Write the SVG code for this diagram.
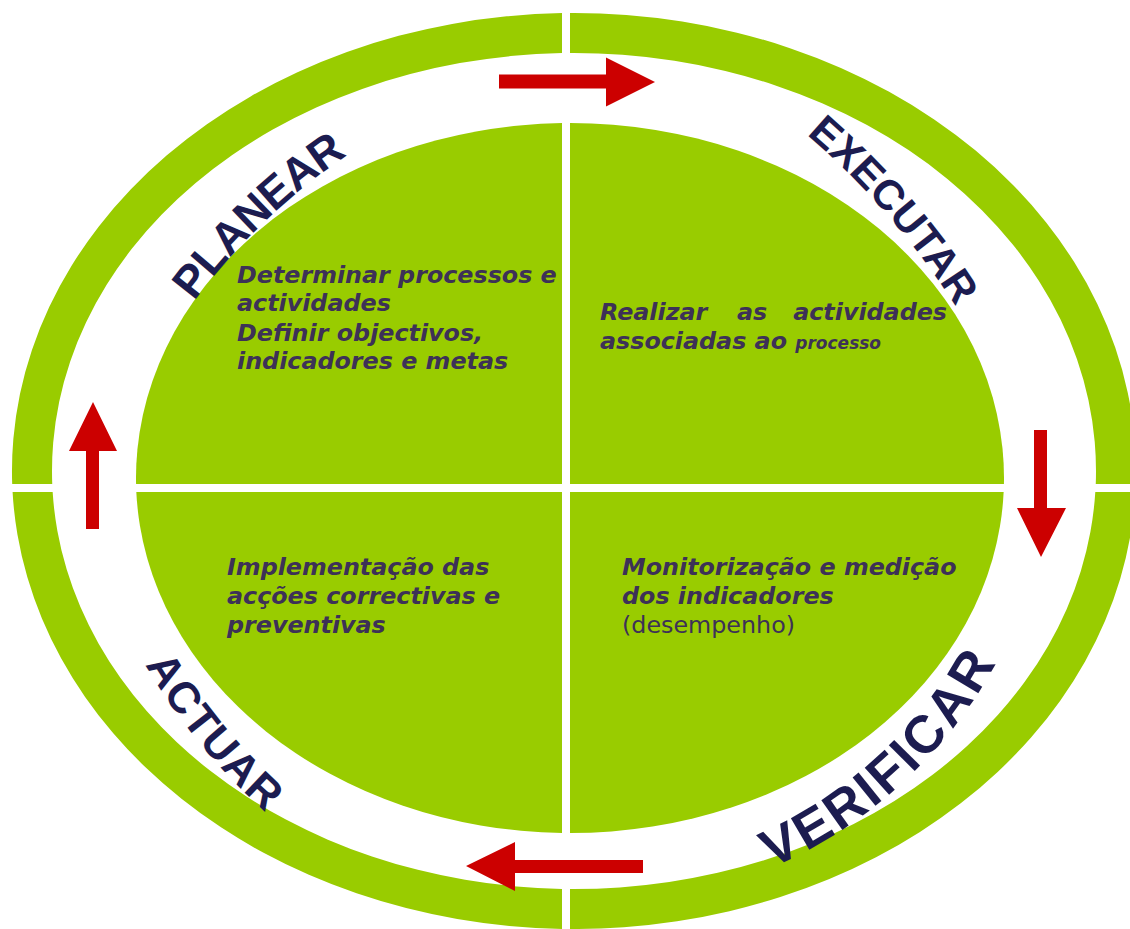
<svg xmlns="http://www.w3.org/2000/svg" width="1130" height="929" viewBox="0 0 1130 929">
<style>
.g{fill:#99CC00}
.body{font-family:"DejaVu Sans",Verdana,sans-serif;font-weight:bold;font-style:italic;font-size:23.8px;fill:#3D3157}
.reg{font-weight:normal;font-style:normal}
.lbl{font-family:"Liberation Sans",Arial,sans-serif;font-weight:bold;fill:#1C1C50;dominant-baseline:central}
.arr{fill:#CC0000}
</style>
<defs>
<path id="pPlan" d="M163.1,317.5 A650,650 0 0,1 365,124.7"/>
<path id="pExec" d="M796,106.1 A800,800 0 0,1 982.7,321.9"/>
<path id="pVer" d="M737,861.2 A450,450 0 0,0 990,633.2"/>
<path id="pAct" d="M147.1,635.3 A600,600 0 0,0 295,816.5"/>
</defs>
<rect width="1130" height="929" fill="#ffffff"/>

<g id="planear">
<path class="g" d="M12.2,484 A562,458 0 0,1 562,13.1 L562,53.1 A522,418 0 0,0 52.25,484 Z"/>
<path class="g" d="M562,484 L136.06,484 A434,355 0 0,1 562,123.06 Z"/>
<text class="lbl" font-size="45"><textPath href="#pPlan" startOffset="50%" text-anchor="middle">PLANEAR</textPath></text>
<text class="body"><tspan x="237" y="283">Determinar processos e</tspan><tspan x="237" y="311">actividades</tspan><tspan x="237" y="341">Definir objectivos,</tspan><tspan x="237" y="369">indicadores e metas</tspan></text>
</g>

<g id="executar">
<path class="g" d="M570,13 A562,458 0 0,1 1135.8,484 L1095.75,484 A522,418 0 0,0 570,53 Z"/>
<path class="g" d="M570,484 L570,123 A434,355 0 0,1 1003.94,484 Z"/>
<text class="lbl" font-size="42" letter-spacing="0.7"><textPath href="#pExec" startOffset="50%" text-anchor="middle">EXECUTAR</textPath></text>
<text class="body"><tspan x="600" y="320">Realizar</tspan><tspan x="737" y="320">as</tspan><tspan x="947" y="320" text-anchor="end">actividades</tspan></text>
<text class="body"><tspan x="600" y="349">associadas ao </tspan><tspan font-size="17">processo</tspan></text>
</g>

<g id="verificar">
<path class="g" d="M570,889 L570,929 A562,458 0 0,0 1135.4,492 L1095.3,492 A522,418 0 0,1 570,889 Z"/>
<path class="g" d="M570,492 L1003.66,492 A434,355 0 0,1 570,833 Z"/>
<text class="lbl" font-size="53" letter-spacing="1.6"><textPath href="#pVer" startOffset="51%" text-anchor="middle">VERIFICAR</textPath></text>
<text class="body"><tspan x="622" y="575">Monitorização e medição</tspan><tspan x="622" y="604">dos indicadores</tspan><tspan class="reg" x="622" y="633">(desempenho)</tspan></text>
</g>

<g id="actuar">
<path class="g" d="M12.59,492 L52.66,492 A522,418 0 0,0 562,888.9 L562,928.9 A562,458 0 0,1 12.59,492 Z"/>
<path class="g" d="M562,492 L562,832.94 A434,355 0 0,1 136.34,492 Z"/>
<text class="lbl" font-size="44" letter-spacing="0.3"><textPath href="#pAct" startOffset="50%" text-anchor="middle">ACTUAR</textPath></text>
<text class="body"><tspan x="227" y="575">Implementação das</tspan><tspan x="227" y="604">acções correctivas e</tspan><tspan x="227" y="633">preventivas</tspan></text>
</g>

<g id="connectors">
<polygon class="arr" points="499,74.5 606,74.5 606,57.5 655,82 606,106.5 606,88.5 499,88.5"/>
<polygon class="arr" points="1034,430 1047,430 1047,508 1066,508 1041,557 1017,508 1034,508"/>
<polygon class="arr" points="643,860 515,860 515,842 466,866 515,891 515,873 643,873"/>
<polygon class="arr" points="86,529 86,451 69,451 93,402 117,451 99,451 99,529"/>
</g>
</svg>
